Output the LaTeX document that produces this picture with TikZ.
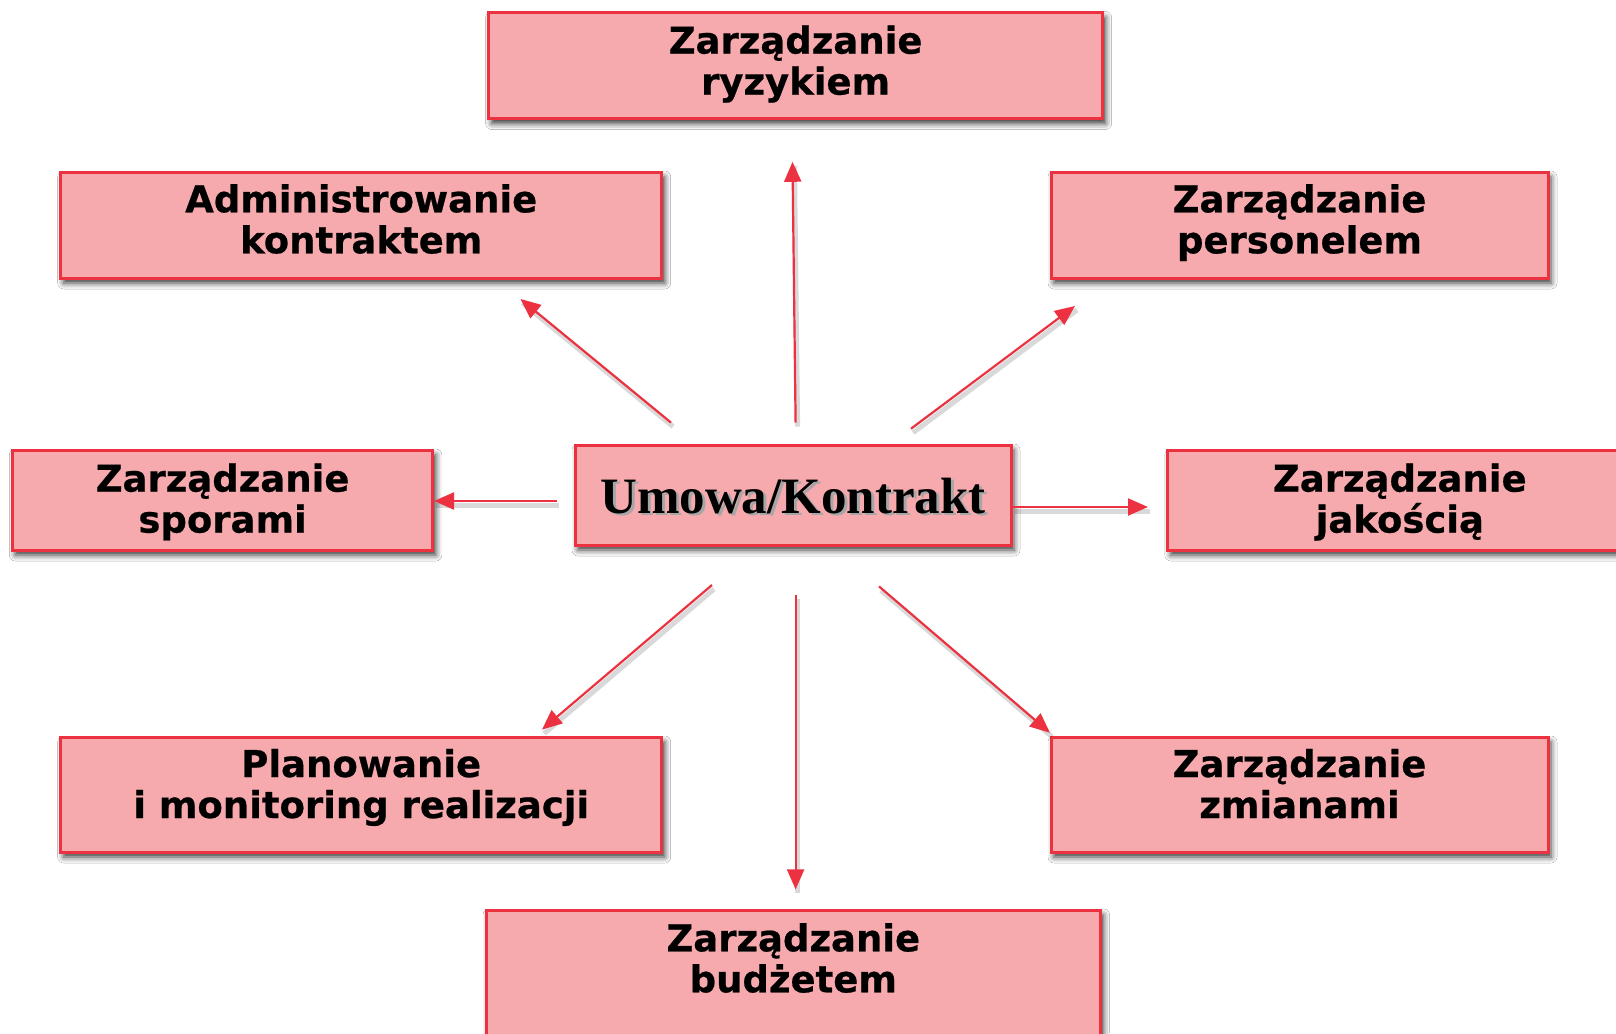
\documentclass[tikz,border=0pt]{standalone}
\usepackage{fontspec}
\setmainfont[BoldFeatures={FakeBold=0.6}]{DejaVu Sans}
\newfontfamily\umowafont{Liberation Serif}
\usetikzlibrary{arrows.meta,shadows.blur}
\definecolor{boxfill}{RGB}{246,170,174}
\definecolor{boxline}{RGB}{236,50,64}
\tikzset{
  box/.style={draw=boxline, line width=3pt, fill=boxfill, inner sep=0pt,
    blur shadow={shadow xshift=3pt, shadow yshift=-5pt, shadow blur radius=6pt, shadow opacity=80}},
  lbl/.style={align=center, inner sep=0pt, anchor=base,
    font=\bfseries\fontsize{37}{41}\selectfont},
  arr/.style={draw=boxline, line width=2.2pt, -{Triangle[length=20pt,width=17pt]},
    preaction={draw=black, draw opacity=0.15, line width=5pt, -, transform canvas={shift={(2pt,-4pt)}}}}
}
\begin{document}
\begin{tikzpicture}[x=1pt,y=-1pt]
\useasboundingbox[fill=white] (0,0) rectangle (1616,1033);
% boxes
\node[box, minimum width=614pt, minimum height=106pt] (risk) at (795.6,65.5) {};
\node[box, minimum width=601pt, minimum height=106pt] (admin) at (361.2,225) {};
\node[box, minimum width=497pt, minimum height=106pt] (pers) at (1299.5,225) {};
\node[box, minimum width=420.5pt, minimum height=100pt] (spor) at (222.6,500) {};
\node[box, minimum width=436pt, minimum height=100pt] (umowa) at (793,495) {};
\node[box, minimum width=464pt, minimum height=100pt] (jak) at (1399.8,500) {};
\node[box, minimum width=601pt, minimum height=115pt] (plan) at (361.2,794.5) {};
\node[box, minimum width=497pt, minimum height=115pt] (zmian) at (1299.5,794.5) {};
\node[box, minimum width=614.6pt, minimum height=150pt] (budz) at (793.3,985) {};
% labels (anchor = baseline of the last line)
\node[lbl] (risk-t) at (795.6,94.6) {Zarządzanie\\ryzykiem};
\node[lbl] (admin-t) at (361.2,253.3) {Administrowanie\\kontraktem};
\node[lbl] (pers-t) at (1299.5,253.3) {Zarządzanie\\personelem};
\node[lbl] (spor-t) at (222.6,532.6) {Zarządzanie\\sporami};
\node[lbl] (jak-t) at (1399.8,532.6) {Zarządzanie\\jakością};
\node[lbl] (plan-t) at (361.2,818) {Planowanie\\i monitoring realizacji};
\node[lbl] (zmian-t) at (1299.5,818) {Zarządzanie\\zmianami};
\node[lbl] (budz-t) at (793.3,992.3) {Zarządzanie\\budżetem};
\node[anchor=base, inner sep=0pt, text=black!35, font=\umowafont\bfseries\fontsize{51}{55}\selectfont] (umowa-s) at (796,515.5) {Umowa/Kontrakt};
\node[anchor=base, inner sep=0pt, font=\umowafont\bfseries\fontsize{51}{55}\selectfont] (umowa-t) at (793,513) {Umowa/Kontrakt};
% arrow end points
\coordinate (a1s) at (795.6,422.6); \coordinate (a1e) at (792.5,161.8);
\coordinate (a2s) at (671,422.6);   \coordinate (a2e) at (520.5,299);
\coordinate (a3s) at (911,428.7);   \coordinate (a3e) at (1075,306);
\coordinate (a4s) at (556.5,501);   \coordinate (a4e) at (434,501);
\coordinate (a5e) at (1148,507);
\coordinate (a6s) at (712,585);     \coordinate (a6e) at (542,729.6);
\coordinate (a7s) at (795.6,594.7); \coordinate (a7e) at (795.6,889.4);
\coordinate (a8s) at (879,586.4);   \coordinate (a8e) at (1050,732.8);
% arrows
\draw[arr] (a1s) -- (a1e);
\draw[arr] (a2s) -- (a2e);
\draw[arr] (a3s) -- (a3e);
\draw[arr] (a4s) -- (a4e);
\draw[arr] (umowa.east |- a5e) -- (a5e);
\draw[arr] (a6s) -- (a6e);
\draw[arr] (a7s) -- (a7e);
\draw[arr] (a8s) -- (a8e);
\end{tikzpicture}
\end{document}
